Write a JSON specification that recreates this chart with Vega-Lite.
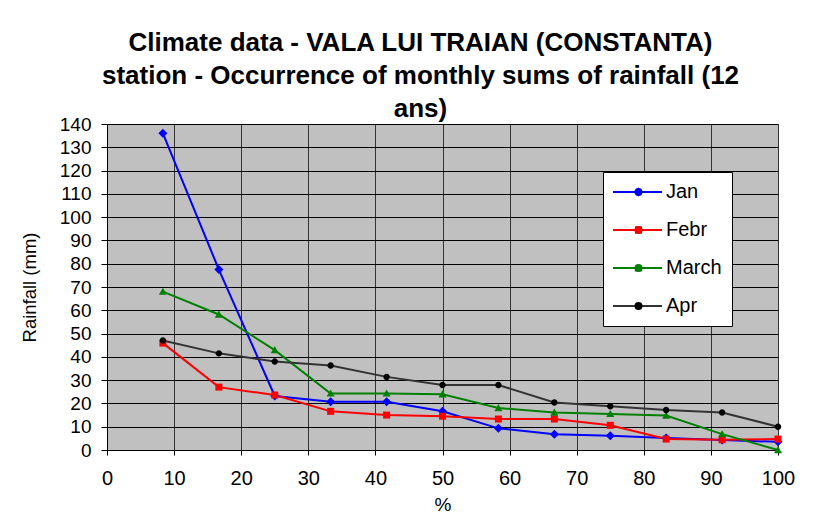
{
  "$schema": "https://vega.github.io/schema/vega-lite/v6.json",
  "width": 671,
  "height": 326,
  "autosize": {"type": "none"},
  "padding": {"left": 107, "top": 124, "right": 36, "bottom": 79},
  "background": "white",
  "config": {
    "font": "Liberation Sans",
    "view": {"fill": "#C0C0C0", "stroke": "#808080", "strokeWidth": 1},
    "axis": {
      "labelColor": "black", "titleColor": "black", "domainColor": "black", "tickColor": "black",
      "labelFont": "Liberation Sans", "titleFont": "Liberation Sans",
      "titleFontWeight": "normal", "gridOpacity": 1
    }
  },
  "title": {
    "text": ["Climate data - VALA LUI TRAIAN (CONSTANTA)", "station - Occurrence of monthly sums of rainfall (12", "ans)"],
    "fontSize": 26, "fontWeight": "bold", "color": "black", "font": "Liberation Sans",
    "lineHeight": 33, "anchor": "middle", "dx": -22, "offset": -33, "baseline": "bottom"
  },
  "data": {
    "values": [
      {"series": "Jan", "pct": 8.33, "rain": 136},
      {"series": "Jan", "pct": 16.67, "rain": 77.5},
      {"series": "Jan", "pct": 25, "rain": 23.2},
      {"series": "Jan", "pct": 33.33, "rain": 20.7},
      {"series": "Jan", "pct": 41.67, "rain": 20.7},
      {"series": "Jan", "pct": 50, "rain": 16.6},
      {"series": "Jan", "pct": 58.33, "rain": 9.3},
      {"series": "Jan", "pct": 66.67, "rain": 6.8},
      {"series": "Jan", "pct": 75, "rain": 6.1},
      {"series": "Jan", "pct": 83.33, "rain": 5.1},
      {"series": "Jan", "pct": 91.67, "rain": 4.3},
      {"series": "Jan", "pct": 100, "rain": 3.5},
      {"series": "Febr", "pct": 8.33, "rain": 45.9},
      {"series": "Febr", "pct": 16.67, "rain": 27},
      {"series": "Febr", "pct": 25, "rain": 23.6},
      {"series": "Febr", "pct": 33.33, "rain": 16.6},
      {"series": "Febr", "pct": 41.67, "rain": 15},
      {"series": "Febr", "pct": 50, "rain": 14.5},
      {"series": "Febr", "pct": 58.33, "rain": 13.3},
      {"series": "Febr", "pct": 66.67, "rain": 13.3},
      {"series": "Febr", "pct": 75, "rain": 10.6},
      {"series": "Febr", "pct": 83.33, "rain": 4.7},
      {"series": "Febr", "pct": 91.67, "rain": 4.4},
      {"series": "Febr", "pct": 100, "rain": 4.7},
      {"series": "March", "pct": 8.33, "rain": 68},
      {"series": "March", "pct": 16.67, "rain": 58.2},
      {"series": "March", "pct": 25, "rain": 42.9},
      {"series": "March", "pct": 33.33, "rain": 24.3},
      {"series": "March", "pct": 41.67, "rain": 24.3},
      {"series": "March", "pct": 50, "rain": 23.9},
      {"series": "March", "pct": 58.33, "rain": 18},
      {"series": "March", "pct": 66.67, "rain": 16.1},
      {"series": "March", "pct": 75, "rain": 15.5},
      {"series": "March", "pct": 83.33, "rain": 14.8},
      {"series": "March", "pct": 91.67, "rain": 6.8},
      {"series": "March", "pct": 100, "rain": 0},
      {"series": "Apr", "pct": 8.33, "rain": 47},
      {"series": "Apr", "pct": 16.67, "rain": 41.5},
      {"series": "Apr", "pct": 25, "rain": 38},
      {"series": "Apr", "pct": 33.33, "rain": 36.3},
      {"series": "Apr", "pct": 41.67, "rain": 31.4},
      {"series": "Apr", "pct": 50, "rain": 27.9},
      {"series": "Apr", "pct": 58.33, "rain": 27.9},
      {"series": "Apr", "pct": 66.67, "rain": 20.4},
      {"series": "Apr", "pct": 75, "rain": 18.8},
      {"series": "Apr", "pct": 83.33, "rain": 17.2},
      {"series": "Apr", "pct": 91.67, "rain": 16.1},
      {"series": "Apr", "pct": 100, "rain": 10}
    ]
  },
  "encoding": {
    "x": {
      "field": "pct", "type": "quantitative", "title": "%",
      "scale": {"domain": [0, 100], "nice": false, "zero": false},
      "axis": {
        "values": [0, 10, 20, 30, 40, 50, 60, 70, 80, 90, 100],
        "grid": true, "gridColor": "#333333", "gridWidth": 1,
        "labelFontSize": 20, "labelPadding": 13, "tickSize": 5,
        "titleFontSize": 19, "titlePadding": 7, "labelFlush": false
      }
    },
    "y": {
      "field": "rain", "type": "quantitative", "title": "Rainfall (mm)",
      "scale": {"domain": [0, 140], "nice": false},
      "axis": {
        "values": [0, 10, 20, 30, 40, 50, 60, 70, 80, 90, 100, 110, 120, 130, 140],
        "grid": true, "gridColor": "black", "gridWidth": 1,
        "labelFontSize": 19, "labelPadding": 10, "tickSize": 6,
        "titleFontSize": 18.5, "titlePadding": 20, "labelFlush": false
      }
    }
  },
  "layer": [
    {
      "mark": {"type": "line", "strokeWidth": 2},
      "encoding": {
        "color": {
          "field": "series", "type": "nominal",
          "scale": {"domain": ["Jan", "Febr", "March", "Apr"], "range": ["#0000FF", "#FF0000", "#008000", "#333333"]},
          "legend": {
            "title": null, "orient": "none", "legendX": 496, "legendY": 48, "zindex": 1,
            "fillColor": "white", "strokeColor": "black", "padding": 10,
            "labelFontSize": 20, "labelColor": "black", "labelFont": "Liberation Sans",
            "symbolSize": 64, "symbolType": "M-2.5,0H9.75", "symbolStrokeWidth": 2,
            "labelOffset": 33, "rowPadding": 18
          }
        }
      }
    },
    {
      "mark": {"type": "point", "filled": true, "opacity": 1, "size": 64, "strokeWidth": 0},
      "encoding": {
        "fill": {
          "field": "series", "type": "nominal",
          "sort": ["Jan", "Febr", "March", "Apr"],
          "scale": {"range": ["#0000FF", "#FF0000", "#008000", "#000000"]},
          "legend": {
            "title": null, "orient": "none", "legendX": 511.5, "legendY": 48, "zindex": 2,
            "padding": 10, "labelFontSize": 20, "labelExpr": "''",
            "symbolSize": 64, "labelOffset": 33, "rowPadding": 18
          }
        },
        "shape": {
          "field": "series", "type": "nominal",
          "sort": ["Jan", "Febr", "March", "Apr"],
          "scale": {
            "range": [
              "M0,-1.125L1.125,0L0,1.125L-1.125,0Z",
              "M-0.875,-0.875H0.875V0.875H-0.875Z",
              "M0,-1L1,0.8H-1Z",
              "M-0.8,0A0.8,0.8 0 1,0 0.8,0A0.8,0.8 0 1,0 -0.8,0Z"
            ]
          },
          "legend": {
            "title": null, "orient": "none", "legendX": 511.5, "legendY": 48, "zindex": 2,
            "padding": 10, "labelFontSize": 20, "labelExpr": "''",
            "symbolSize": 64, "labelOffset": 33, "rowPadding": 18
          }
        }
      }
    }
  ]
}
